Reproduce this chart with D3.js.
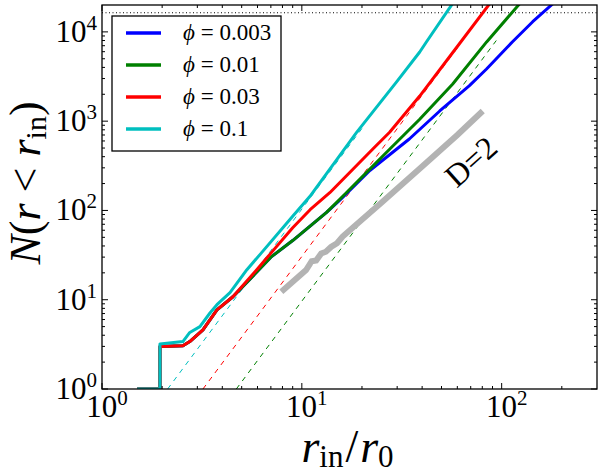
<!DOCTYPE html>
<html>
<head>
<meta charset="utf-8">
<script src="https://cdn.jsdelivr.net/npm/d3@7"></script>
<style>
  body { margin: 0; background: #fff; }
  svg { display: block; }
</style>
</head>
<body>
<svg id="chart" width="600" height="474"></svg>
<script>
// measured curves, [r_in/r0, N(r<r_in)]
const phi003 = [[1.5,1],[1.95,1],[1.95,3.0],[2.54,3.05],[2.75,3.4],[3.2,4.6],[3.76,7.7],[4.52,10.8],[5.5,17],
  [7,30],[9,46],[13.3,95],[15.5,130],[21.9,280],[34.5,631],[49,1300],[69,2500],[84,3840],[113,7700],[143,13000],[180,20600]];
const phi01 = [[1.5,1],[1.95,1],[1.95,3.0],[2.54,3.05],[2.75,3.4],[3.2,4.6],[3.76,7.7],[4.52,10.8],[5.5,17],
  [7,30],[9,46],[13.3,95],[16.7,158],[21.9,290],[27.5,484],[38.9,1052],[56.9,2606],[84.1,7720],[123,20650]];
const phi03 = [[1.5,1],[1.95,1],[1.95,3.0],[2.54,3.05],[2.75,3.4],[3.2,4.6],[3.76,7.7],[4.52,10.8],[5.95,21.7],
  [6.9,32],[9,64],[11,102],[13.8,158],[22.6,484],[27.5,750],[38.9,1910],[60,6860],[87,20600]];
const phi1 = [[1.5,1],[1.95,1],[1.95,3.2],[2.54,3.4],[2.75,4.3],[3.09,5.0],[3.47,7.1],[3.76,8.8],[4.37,12],
  [5.31,21.7],[6.17,32],[9,86],[10.96,143],[18.8,750],[29.8,2750],[38.9,5950],[42,7700],[57,21000]];

// slope-3 guide lines (dashed)
const fit1 = [[2.13,1],[20,828]];
const fit03 = [[3.2,1],[60,6590]];
const fit01 = [[4.7,1],[94,8000]];

// D=2 reference (grey)
const refD2 = [[7.9,12.3],[10.5,21.5],[11.2,27],[11.8,27.5],[12.5,33],[13.2,34.5],[14,39],[15,43],[16,51],
  [25,122],[40,310],[60,700],[80.4,1300]];
const refD2Label = [70, 355];

const nMax = 16384;

const seriesLabels = ["0.003", "0.01", "0.03", "0.1"];
const seriesColors = ["#0000ff", "#008000", "#ff0000", "#00bfbf"];
const seriesData = [phi003, phi01, phi03, phi1];
const fitData = [fit1, fit03, fit01];
const fitColors = ["#00bfbf", "#ff0000", "#008000"];

const xTickExp = [0, 1, 2];
const yTickExp = [0, 1, 2, 3, 4];

const width = 600, height = 474;
const margin = {top: 5, right: 3, bottom: 85, left: 102};
const innerW = width - margin.left - margin.right;
const innerH = height - margin.top - margin.bottom;

const svg = d3.select("#chart");
const g = svg.append("g").attr("transform", "translate(" + margin.left + "," + margin.top + ")");

const x = d3.scaleLog().domain([1, 300]).range([0, innerW]);
const y = d3.scaleLog().domain([1, 2e4]).range([innerH, 0]);

function addText(parent) {
  return parent.append("text").attr("font-family", "Liberation Serif");
}

svg.append("defs").append("clipPath").attr("id", "clip")
  .append("rect").attr("width", innerW).attr("height", innerH);

const line = d3.line().x(d => x(d[0])).y(d => y(d[1]));

const plot = g.append("g").attr("clip-path", "url(#clip)");

// dashed guides
plot.selectAll(".fit").data(fitData).enter().append("path")
  .attr("class", "fit")
  .attr("d", line)
  .attr("fill", "none")
  .attr("stroke", (d, i) => fitColors[i])
  .attr("stroke-width", 1)
  .attr("stroke-dasharray", "5,5");

// grey D=2
plot.append("path").datum(refD2)
  .attr("d", line)
  .attr("fill", "none")
  .attr("stroke", "#b3b3b3")
  .attr("stroke-width", 6);

// horizontal dotted limit
plot.append("line")
  .attr("x1", 0).attr("x2", innerW)
  .attr("y1", y(nMax)).attr("y2", y(nMax))
  .attr("stroke", "#000").attr("stroke-width", 1.2)
  .attr("stroke-dasharray", "1,2.5");

// data curves
plot.selectAll(".curve").data(seriesData).enter().append("path")
  .attr("class", "curve")
  .attr("d", line)
  .attr("fill", "none")
  .attr("stroke", (d, i) => seriesColors[i])
  .attr("stroke-width", 3)
  .attr("stroke-linejoin", "round");

// frame
g.append("rect").attr("width", innerW).attr("height", innerH)
  .attr("fill", "none").attr("stroke", "#000").attr("stroke-width", 1.3);

// ticks (inside, all four sides)
const minor = (dom) => {
  const out = [];
  for (let e = -1; e < 6; e++) for (let k = 2; k < 10; k++) {
    const v = k * Math.pow(10, e);
    if (v > dom[0] && v < dom[1]) out.push(v);
  }
  return out;
};
const xMaj = xTickExp.map(e => Math.pow(10, e));
const yMaj = yTickExp.map(e => Math.pow(10, e));
const ticks = g.append("g").attr("stroke", "#000").attr("stroke-width", 1);
[[xMaj, 6], [minor(x.domain()), 3]].forEach(([vals, len]) => {
  vals.forEach(v => {
    ticks.append("line").attr("x1", x(v)).attr("x2", x(v)).attr("y1", innerH).attr("y2", innerH - len);
    ticks.append("line").attr("x1", x(v)).attr("x2", x(v)).attr("y1", 0).attr("y2", len);
  });
});
[[yMaj, 6], [minor(y.domain()), 3]].forEach(([vals, len]) => {
  vals.forEach(v => {
    ticks.append("line").attr("y1", y(v)).attr("y2", y(v)).attr("x1", 0).attr("x2", len);
    ticks.append("line").attr("y1", y(v)).attr("y2", y(v)).attr("x1", innerW).attr("x2", innerW - len);
  });
});

// tick labels 10^n
function powLabel(sel, e) {
  sel.append("tspan").text("10");
  sel.append("tspan").attr("dy", -12).attr("font-size", 21).text(e);
}
xTickExp.forEach(e => {
  const t = addText(g).attr("x", x(Math.pow(10, e)) + 5).attr("y", 417 - margin.top)
    .attr("font-size", 31).attr("text-anchor", "middle");
  powLabel(t, e);
});
yTickExp.forEach(e => {
  const t = addText(g).attr("x", -5).attr("y", y(Math.pow(10, e)) + 10)
    .attr("font-size", 31).attr("text-anchor", "end");
  powLabel(t, e);
});

// axis labels
const xl = addText(g).attr("x", innerW / 2 - 2).attr("y", 462 - margin.top)
  .attr("font-size", 46).attr("text-anchor", "middle");
xl.append("tspan").attr("font-style", "italic").text("r");
xl.append("tspan").attr("font-size", 31).attr("dy", 5).text("in");
xl.append("tspan").attr("dy", -5).attr("dx", 2).text("/");
xl.append("tspan").attr("font-style", "italic").attr("dx", 2).text("r");
xl.append("tspan").attr("font-size", 31).attr("dy", 5).text("0");

const yl = addText(g)
  .attr("transform", "translate(" + (40 - margin.left) + "," + (183 - margin.top) + ") rotate(-90)")
  .attr("font-size", 44).attr("text-anchor", "middle");
yl.append("tspan").attr("font-style", "italic").text("N");
yl.append("tspan").text("(");
yl.append("tspan").attr("font-style", "italic").text("r");
yl.append("tspan").text(" < ");
yl.append("tspan").attr("font-style", "italic").text("r");
yl.append("tspan").attr("font-size", 30).attr("dy", 6).text("in");
yl.append("tspan").attr("dy", -6).text(")");

// D=2 label
const ang = -Math.atan2(y(10) - y(1000), x(100) - x(10)) * 180 / Math.PI;
addText(g)
  .attr("transform", "translate(" + x(refD2Label[0]) + "," + y(refD2Label[1]) + ") rotate(" + ang + ")")
  .attr("font-size", 32).attr("text-anchor", "middle").attr("dy", "0.35em").text("D=2");

// legend
const lg = svg.append("g").attr("transform", "translate(112,16)");
lg.append("rect").attr("width", 169).attr("height", 135)
  .attr("fill", "#fff").attr("stroke", "#000").attr("stroke-width", 1.3);
seriesLabels.forEach((lab, i) => {
  const yy = 17 + i * 32;
  lg.append("line").attr("x1", 14).attr("x2", 49).attr("y1", yy).attr("y2", yy)
    .attr("stroke", seriesColors[i]).attr("stroke-width", 3.5);
  const t = addText(lg).attr("x", 71).attr("y", yy + 7).attr("font-size", 23);
  t.append("tspan").attr("font-style", "italic").text("\u03d5");
  t.append("tspan").text(" = " + lab);
});
</script>
</body>
</html>
